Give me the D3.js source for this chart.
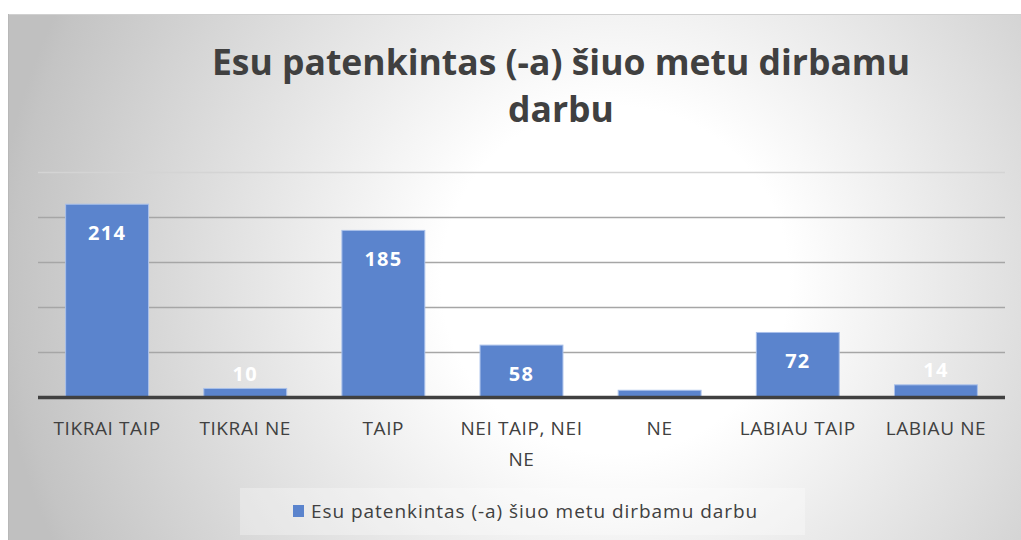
<!DOCTYPE html>
<html><head><meta charset="utf-8">
<script src="https://cdn.jsdelivr.net/npm/d3@7"></script>
<style>body{margin:0;background:#fff}svg{display:block}</style>
</head><body>
<svg id="c" width="1021" height="540"></svg>
<script>
const categories = ["TIKRAI TAIP","TIKRAI NE","TAIP","NEI TAIP, NEI NE","NE","LABIAU TAIP","LABIAU NE"];
const values = [214,10,185,58,8,72,14];
const yTicks = [0,50,100,150,200,250];
const title = ["Esu patenkintas (-a) šiuo metu dirbamu","darbu"];
const seriesName = "Esu patenkintas (-a) šiuo metu dirbamu darbu";

const svg = d3.select("#c");
const defs = svg.append("defs");
const rg = defs.append("radialGradient").attr("id","bg").attr("gradientUnits","userSpaceOnUse")
  .attr("cx",615).attr("cy",280).attr("r",620);
rg.append("stop").attr("offset","0").attr("stop-color","#ffffff");
rg.append("stop").attr("offset","0.28").attr("stop-color","#ffffff");
rg.append("stop").attr("offset","0.97").attr("stop-color","#c4c4c4");
rg.append("stop").attr("offset","1").attr("stop-color","#c0c0c0");
svg.append("rect").attr("x",8).attr("y",14).attr("width",1013).attr("height",526).attr("fill","url(#bg)");
svg.append("line").attr("x1",8).attr("x2",1021).attr("y1",14.5).attr("y2",14.5).attr("stroke","#d0d0d0");
svg.append("line").attr("x1",8.5).attr("x2",8.5).attr("y1",14).attr("y2",540).attr("stroke","#b8b8b8");

const x = d3.scaleBand().domain(categories).range([38,1005]).paddingInner(0.4).paddingOuter(0.2);
const y = d3.scaleLinear().domain([0,250]).range([397.5,171.7]);

// gridlines
svg.append("g").selectAll("line").data(yTicks.slice(1)).join("line")
  .attr("x1",38).attr("x2",1005)
  .attr("y1",d=>Math.round(y(d))+0.5).attr("y2",d=>Math.round(y(d))+0.5)
  .attr("stroke",d=>d===250?"#d4d4d4":"#a6a6a6").attr("stroke-width",1.3);

// bars
svg.append("g").selectAll("rect").data(values).join("rect")
  .attr("x",(d,i)=>x(categories[i])).attr("width",x.bandwidth())
  .attr("y",d=>y(d)).attr("height",d=>y(0)-y(d))
  .attr("fill","#5b84cd").attr("stroke","#a9c0ea").attr("stroke-width",1);

// baseline
svg.append("line").attr("x1",38).attr("x2",1005).attr("y1",y(0)).attr("y2",y(0))
  .attr("stroke","#404040").attr("stroke-width",3.5);

// value labels
svg.append("g").selectAll("text").data(values).join("text")
  .attr("x",(d,i)=>x(categories[i])+x.bandwidth()/2)
  .attr("y",d=> (y(0)-y(d))>40 ? y(d)+28 : y(d)-15)
  .attr("text-anchor","middle").attr("dominant-baseline","central")
  .attr("font-family","Open Sans, sans-serif").attr("font-weight","bold").attr("font-size",20)
  .attr("letter-spacing",1.2)
  .attr("fill","#ffffff").text(d=>d);

// category labels
const catLines = {"NEI TAIP, NEI NE":["NEI TAIP, NEI","NE"]};
const cg = svg.append("g");
categories.forEach(c=>{
  const lines = catLines[c]||[c];
  lines.forEach((l,j)=>{
    cg.append("text").attr("x",x(c)+x.bandwidth()/2).attr("y",428+j*31)
      .attr("text-anchor","middle").attr("dominant-baseline","central")
      .attr("font-family","Open Sans, sans-serif").attr("font-size",19).attr("letter-spacing",0.6)
      .attr("fill","#404040").text(l);
  });
});

// title
const tg = svg.append("g");
title.forEach((t,i)=>{
  tg.append("text").attr("x",561).attr("y",75+i*47).attr("text-anchor","middle")
    .attr("font-family","Open Sans, sans-serif").attr("font-weight","bold").attr("font-size",35.5)
    .attr("fill","#404040").text(t);
});

// legend
svg.append("rect").attr("x",240).attr("y",488).attr("width",565).attr("height",47).attr("fill","#ffffff").attr("opacity",0.3);
svg.append("rect").attr("x",293).attr("y",505).attr("width",11).attr("height",12).attr("fill","#5b84cd");
svg.append("text").attr("x",311).attr("y",511).attr("dominant-baseline","central")
  .attr("font-family","Open Sans, sans-serif").attr("font-size",19).attr("letter-spacing",0.95)
  .attr("fill","#404040").text(seriesName);
</script>
</body></html>
